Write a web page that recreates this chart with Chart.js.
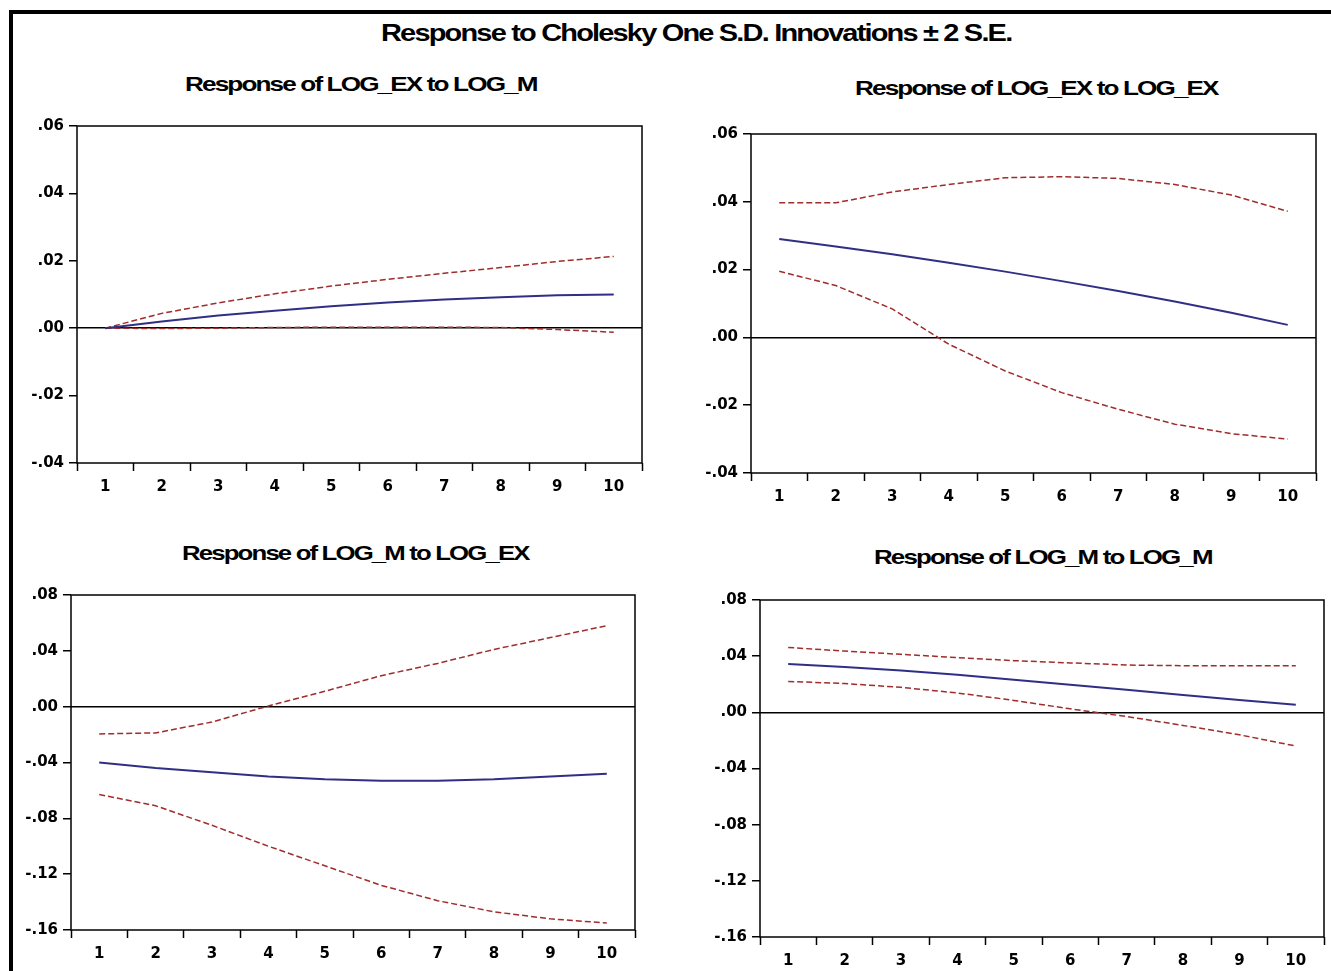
<!DOCTYPE html>
<html>
<head>
<meta charset="utf-8">
<script src="https://cdn.jsdelivr.net/npm/chart.js@4.4.1/dist/chart.umd.min.js"></script>
<style>
  body { margin: 0; background: #fff; width: 1331px; height: 971px; overflow: hidden; position: relative;
         font-family: 'Liberation Sans', Arial, sans-serif; }
  #frame { position: absolute; left: 9px; top: 10px; width: 1400px; height: 1000px;
           border-left: 4px solid #000; border-top: 4px solid #000; }
  .title { position: absolute; font-weight: bold; white-space: nowrap; color: #000;
           letter-spacing: -1.5px; transform-origin: left top; }
  .panel { position: absolute; }
</style>
</head>
<body>
<div id="frame"></div>
<div class="title" id="mainTitle" style="font-size:24px">Response to Cholesky One S.D. Innovations ± 2 S.E.</div>
<div class="title" id="t1" style="font-size:21px">Response of LOG_EX to LOG_M</div>
<div class="title" id="t2" style="font-size:21px">Response of LOG_EX to LOG_EX</div>
<div class="title" id="t3" style="font-size:21px">Response of LOG_M to LOG_EX</div>
<div class="title" id="t4" style="font-size:21px">Response of LOG_M to LOG_M</div>
<canvas class="panel" id="c1"></canvas>
<canvas class="panel" id="c2"></canvas>
<canvas class="panel" id="c3"></canvas>
<canvas class="panel" id="c4"></canvas>
<script>
// periods on the x axis
const periods = ['1', '2', '3', '4', '5', '6', '7', '8', '9', '10'];

// LOG_EX to LOG_M
const exToM = [0, 0.0020, 0.0038, 0.0052, 0.0065, 0.0076, 0.0085, 0.0092, 0.0098, 0.0100];
const exToMUp = [0, 0.0044, 0.0075, 0.0102, 0.0125, 0.0145, 0.0163, 0.0180, 0.0198, 0.0213];
const exToMLow = [0, -0.0001, 0.0000, 0.0002, 0.0003, 0.0003, 0.0003, 0.0002, -0.0004, -0.0012];

// LOG_EX to LOG_EX
const exToEx = [0.0290, 0.0268, 0.0245, 0.0220, 0.0194, 0.0166, 0.0137, 0.0106, 0.0073, 0.0037];
const exToExUp = [0.0397, 0.0397, 0.0429, 0.0451, 0.0471, 0.0474, 0.0469, 0.0451, 0.0420, 0.0372];
const exToExLow = [0.0195, 0.0153, 0.0084, -0.0020, -0.0099, -0.0163, -0.0212, -0.0256, -0.0284, -0.0300];

// LOG_M to LOG_EX
const mToEx = [-0.040, -0.044, -0.047, -0.050, -0.052, -0.053, -0.053, -0.052, -0.050, -0.048];
const mToExUp = [-0.0195, -0.0188, -0.0110, 0.0005, 0.0110, 0.0222, 0.0310, 0.0410, 0.0495, 0.0580];
const mToExLow = [-0.063, -0.071, -0.085, -0.100, -0.114, -0.128, -0.139, -0.147, -0.152, -0.155];

// LOG_M to LOG_M
const mToM = [0.0345, 0.0322, 0.0298, 0.0268, 0.0232, 0.0196, 0.0160, 0.0124, 0.0088, 0.0054];
const mToMUp = [0.0462, 0.0436, 0.0413, 0.0390, 0.0368, 0.0352, 0.0337, 0.0332, 0.0331, 0.0331];
const mToMLow = [0.0220, 0.0205, 0.0178, 0.0138, 0.0085, 0.0025, -0.0030, -0.0093, -0.0160, -0.0240];

// y axis ranges
const topRange = { min: -0.04, max: 0.06, step: 0.02 };
const bottomRange = { min: -0.16, max: 0.08, step: 0.04 };

const TICK_FONT = { family: "'DejaVu Sans', sans-serif", size: 15, weight: 'bold' };
const BLUE = '#2f2f85';
const RED = '#a02c2c';

// box round the plot area
const boxPlugin = {
  id: 'box',
  afterDraw(chart) {
    const a = chart.chartArea;
    const ctx = chart.ctx;
    ctx.save();
    ctx.strokeStyle = '#000';
    ctx.lineWidth = 1.5;
    ctx.strokeRect(a.left, a.top, a.right - a.left, a.bottom - a.top);
    ctx.restore();
  }
};

function fmt(v) {
  if (Math.abs(v) < 1e-9) return '.00';
  const s = Math.abs(v).toFixed(2).replace(/^0/, '');
  return (v < 0 ? '-' : '') + s;
}

function makePanel(id, rect, range, resp, low, up) {
  const padL = 70, padT = 12, padR = 12, padB = 40;
  const cv = document.getElementById(id);
  const w = rect.r - rect.l + padL + padR;
  const h = rect.b - rect.t + padT + padB;
  cv.width = w; cv.height = h;
  cv.style.left = (rect.l - padL) + 'px';
  cv.style.top = (rect.t - padT) + 'px';
  cv.style.width = w + 'px';
  cv.style.height = h + 'px';

  const dashed = (data) => ({
    data: data, borderColor: RED, borderWidth: 1.5, borderDash: [6, 3],
    pointRadius: 0, tension: 0, fill: false
  });

  new Chart(cv, {
    type: 'line',
    data: {
      labels: periods,
      datasets: [
        { data: resp, borderColor: BLUE, borderWidth: 2, pointRadius: 0, tension: 0, fill: false },
        dashed(up),
        dashed(low)
      ]
    },
    options: {
      responsive: false,
      animation: false,
      layout: { padding: { top: padT, right: padR, left: 0, bottom: 0 } },
      plugins: { legend: { display: false }, tooltip: { enabled: false }, title: { display: false } },
      scales: {
        x: {
          offset: true,
          border: { display: false },
          grid: { offset: true, drawOnChartArea: false, tickLength: 8, tickColor: '#000', tickWidth: 1.5 },
          ticks: { color: '#000', font: TICK_FONT, padding: 7, maxRotation: 0 },
          afterFit: (s) => { s.height = padB; }
        },
        y: {
          min: range.min, max: range.max,
          border: { display: false },
          grid: {
            tickLength: 8, tickColor: '#000', tickWidth: 1.5,
            color: (c) => Math.abs(c.tick.value) < 1e-9 ? '#000' : 'rgba(0,0,0,0)',
            lineWidth: 1.5
          },
          ticks: { stepSize: range.step, color: '#000', font: TICK_FONT,
                   padding: 5, callback: (v) => fmt(v) },
          afterFit: (s) => { s.width = padL; }
        }
      }
    },
    plugins: [boxPlugin]
  });
}

makePanel('c1', { l: 77, t: 124, r: 642, b: 463 }, topRange, exToM, exToMLow, exToMUp);
makePanel('c2', { l: 751, t: 132, r: 1316, b: 473 }, topRange, exToEx, exToExLow, exToExUp);
makePanel('c3', { l: 71, t: 593, r: 635, b: 930 }, bottomRange, mToEx, mToExLow, mToExUp);
makePanel('c4', { l: 760, t: 598, r: 1324, b: 937 }, bottomRange, mToM, mToMLow, mToMUp);

// titles: centre and width
function placeTitle(id, cx, cy, width) {
  const el = document.getElementById(id);
  const w = el.offsetWidth, h = el.offsetHeight;
  const k = width / w;
  el.style.left = (cx - width / 2) + 'px';
  el.style.top = (cy - h / 2) + 'px';
  el.style.transform = 'scaleX(' + k + ')';
}
placeTitle('mainTitle', 696, 33, 630);
placeTitle('t1', 361, 84, 352);
placeTitle('t2', 1036, 88, 363);
placeTitle('t3', 355, 553, 347);
placeTitle('t4', 1043, 557, 338);
</script>
</body>
</html>
